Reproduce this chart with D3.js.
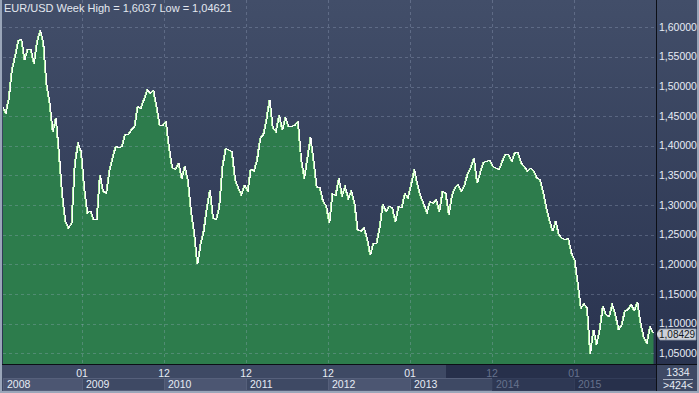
<!DOCTYPE html>
<html>
<head>
<meta charset="utf-8">
<script src="https://cdn.jsdelivr.net/npm/d3@7"></script>
<style>
  html, body { margin: 0; padding: 0; background: #3a4560; }
  svg { display: block; }
  text { font-family: "Liberation Sans Narrow", "Arial Narrow", "Liberation Sans", Arial, sans-serif; }
</style>
</head>
<body>
<div id="grafico"></div>
<script>
var inicio = new Date(2008, 0, 14);
var pasoDias = 14;
var valores = [
  1.466, 1.455, 1.479, 1.528, 1.551, 1.577, 1.580, 1.545, 1.563, 1.562,
  1.539, 1.575, 1.595, 1.573, 1.503, 1.472, 1.424, 1.447, 1.385, 1.317,
  1.272, 1.261, 1.270, 1.368, 1.404, 1.390, 1.329, 1.287, 1.290, 1.275,
  1.275, 1.351, 1.323, 1.320, 1.357, 1.379, 1.399, 1.397, 1.399, 1.419,
  1.419, 1.427,
  1.433, 1.466, 1.463, 1.478, 1.494, 1.489, 1.494, 1.466, 1.435, 1.435,
  1.441, 1.396, 1.363, 1.360, 1.371, 1.345, 1.365, 1.341, 1.289, 1.253,
  1.200, 1.233, 1.256, 1.294, 1.326, 1.278, 1.275, 1.298, 1.365, 1.395,
  1.393, 1.390, 1.343, 1.329, 1.317, 1.334, 1.323, 1.361, 1.357, 1.376,
  1.413,
  1.419, 1.445, 1.478, 1.430, 1.424, 1.452, 1.427, 1.447, 1.433, 1.433,
  1.435, 1.441, 1.379, 1.345, 1.379, 1.414, 1.374, 1.329, 1.329, 1.306,
  1.298, 1.270, 1.319, 1.316, 1.345, 1.316, 1.331, 1.311, 1.324, 1.303,
  1.258, 1.256, 1.261, 1.244, 1.216, 1.236, 1.236, 1.262, 1.301, 1.289,
  1.298, 1.296,
  1.272, 1.298, 1.295, 1.319, 1.312, 1.334, 1.360, 1.335, 1.315, 1.302,
  1.287, 1.306, 1.303, 1.309, 1.289, 1.323, 1.320, 1.284, 1.316, 1.330,
  1.334, 1.323, 1.334, 1.353, 1.363, 1.379, 1.337, 1.355, 1.372, 1.374,
  1.376, 1.365, 1.362, 1.360, 1.374, 1.386, 1.385, 1.374, 1.388, 1.388,
  1.371,
  1.365, 1.357, 1.363, 1.357, 1.346, 1.343, 1.323, 1.296, 1.275, 1.256,
  1.273, 1.250, 1.244, 1.242, 1.244, 1.219, 1.208, 1.169, 1.126, 1.133,
  1.126, 1.049, 1.090, 1.065, 1.090, 1.129, 1.115, 1.112, 1.132, 1.115,
  1.090, 1.098, 1.121, 1.124, 1.132, 1.122, 1.137, 1.101, 1.077, 1.067,
  1.095, 1.08429
];

var titulo = "EUR/USD Week High = 1,6037 Low = 1,04621";
var ticksY = [1.60, 1.55, 1.50, 1.45, 1.40, 1.35, 1.30, 1.25, 1.20, 1.15, 1.10, 1.05];
var anios = ["2008", "2009", "2010", "2011", "2012", "2013", "2014", "2015"];
var mesesInicio = ["", "01", "12", "12", "12", "01", "12", "01"];
var ultimoTexto = "1,08429";
var barrasTotal = "1334";
var barrasVisibles = ">424<";

(function () {
  var ANCHO = 699, ALTO = 393;
  var plot = { left: 3, right: 656, top: 0, bottom: 364 };
  var abajo = { top: 365, bottom: 391 };
  var inicioOscuro = 446; // zona del navegador

  var datos = valores.map(function (v, i) {
    return { fecha: d3.timeDay.offset(inicio, i * pasoDias), valor: v };
  });

  var x = d3.scaleTime()
    .domain([new Date(2008, 0, 1), new Date(2016, 0, 1)])
    .range([0, plot.right]);
  var y = d3.scaleLinear().domain([1.05, 1.60]).range([353.3, 27.3]);

  var coma = function (v) { return d3.format(".5f")(v).replace(".", ","); };

  var svg = d3.select("#grafico").append("svg")
    .attr("width", ANCHO).attr("height", ALTO);

  var defs = svg.append("defs");
  var grad = defs.append("linearGradient").attr("id", "fondo")
    .attr("x1", 0).attr("y1", 0).attr("x2", 0).attr("y2", 1);
  grad.append("stop").attr("offset", "0%").attr("stop-color", "#424e69");
  grad.append("stop").attr("offset", "100%").attr("stop-color", "#29334f");
  defs.append("clipPath").attr("id", "recorte").append("rect")
    .attr("x", plot.left).attr("y", plot.top)
    .attr("width", plot.right - plot.left).attr("height", plot.bottom - plot.top);

  // fondos
  svg.append("rect").attr("width", ANCHO).attr("height", ALTO).attr("fill", "#3a4560");
  svg.append("rect").attr("x", 0).attr("y", 0).attr("width", ANCHO).attr("height", plot.bottom)
    .attr("fill", "url(#fondo)");

  var lienzo = svg.append("g").attr("clip-path", "url(#recorte)");

  var area = d3.area()
    .x(function (d) { return x(d.fecha); })
    .y0(plot.bottom)
    .y1(function (d) { return y(d.valor); });
  var linea = d3.line()
    .x(function (d) { return x(d.fecha); })
    .y(function (d) { return y(d.valor); });

  lienzo.append("path").datum(datos).attr("d", area).attr("fill", "#2d7c4c");

  // rejilla punteada encima del area
  var rejilla = lienzo.append("g")
    .attr("stroke", "rgba(165,180,205,0.30)")
    .attr("stroke-dasharray", "3,3")
    .attr("stroke-width", 1);
  rejilla.selectAll("line.h").data(ticksY).enter().append("line")
    .attr("x1", plot.left).attr("x2", plot.right)
    .attr("y1", function (d) { return Math.round(y(d)) + 0.5; })
    .attr("y2", function (d) { return Math.round(y(d)) + 0.5; });
  var cortesAnio = anios.slice(1).map(function (a) { return new Date(+a, 0, 1); });
  rejilla.selectAll("line.v").data(cortesAnio).enter().append("line")
    .attr("x1", function (d) { return Math.round(x(d)) + 0.5; })
    .attr("x2", function (d) { return Math.round(x(d)) + 0.5; })
    .attr("y1", plot.top).attr("y2", plot.bottom);

  // linea blanca dentada con un borde verde claro, sin suavizado como el original
  lienzo.append("path").datum(datos).attr("d", linea)
    .attr("fill", "none").attr("stroke", "#b4f2a8").attr("stroke-width", 1)
    .attr("shape-rendering", "crispEdges")
    .attr("transform", "translate(-1,0)");
  lienzo.append("path").datum(datos).attr("d", linea)
    .attr("fill", "none").attr("stroke", "#ffffff").attr("stroke-width", 1)
    .attr("shape-rendering", "crispEdges");

  // titulo
  svg.append("text").attr("x", 4).attr("y", 12)
    .attr("fill", "#e3e8f0").attr("font-size", "11px").text(titulo);

  // eje derecho
  var ejeY = svg.append("g");
  ejeY.selectAll("text").data(ticksY).enter().append("text")
    .attr("x", 659)
    .attr("y", function (d) { return y(d) + 3.5; })
    .attr("fill", "#e6ecf5").attr("font-size", "10.5px")
    .text(coma);

  // etiqueta del ultimo valor, tapa un poco el 1,10000 como en el original
  var yu = Math.round(y(valores[valores.length - 1])) + 1;
  svg.append("path")
    .attr("d", "M656," + yu + "L660," + (yu - 5) + "H696V" + (yu + 6) + "H660Z")
    .attr("fill", "#ccd1d9").attr("stroke", "#8e97a6").attr("stroke-width", 0.8);
  svg.append("text").attr("x", 659).attr("y", yu + 4)
    .attr("fill", "#141820").attr("font-size", "10px").text(ultimoTexto);

  // panel de abajo
  var panel = svg.append("g");
  panel.append("rect").attr("x", 0).attr("y", abajo.top)
    .attr("width", plot.right).attr("height", abajo.bottom - abajo.top).attr("fill", "#3e4964");
  panel.append("rect").attr("x", inicioOscuro).attr("y", abajo.top)
    .attr("width", plot.right - inicioOscuro).attr("height", abajo.bottom - abajo.top)
    .attr("fill", "#27304b");

  var cajas = anios.map(function (a, i) {
    var x0 = i === 0 ? plot.left : x(new Date(+a, 0, 1));
    var x1 = i === anios.length - 1 ? plot.right : x(new Date(+a + 1, 0, 1));
    return { anio: a, mes: mesesInicio[i], x0: Math.round(x0), x1: Math.round(x1), i: i };
  });

  var oscura = function (d) { return d.x0 >= inicioOscuro; };

  panel.selectAll("rect.caja").data(cajas).enter().append("rect")
    .attr("x", function (d) { return d.x0 + 0.5; })
    .attr("y", 378.5)
    .attr("width", function (d) { return d.x1 - d.x0; })
    .attr("height", 12)
    .attr("fill", function (d) {
      if (oscura(d)) return d.i % 2 === 0 ? "#2e3854" : "#27304b";
      return d.i % 2 === 0 ? "#4c5672" : "#3e4964";
    })
    .attr("stroke", function (d) { return oscura(d) ? "#333d59" : "#56607b"; })
    .attr("stroke-width", 1);

  panel.selectAll("text.anio").data(cajas).enter().append("text")
    .attr("x", function (d) { return d.x0 + 4; })
    .attr("y", 388)
    .attr("fill", function (d) { return oscura(d) ? "#66728d" : "#e6ecf5"; })
    .attr("font-size", "10.5px")
    .text(function (d) { return d.anio; });

  panel.selectAll("text.mes").data(cajas.filter(function (d) { return d.mes; })).enter().append("text")
    .attr("x", function (d) { return d.x0; })
    .attr("y", 376.5)
    .attr("text-anchor", "middle")
    .attr("fill", function (d) { return oscura(d) ? "#66728d" : "#e6ecf5"; })
    .attr("font-size", "10.5px")
    .text(function (d) { return d.mes; });

  // esquina de abajo a la derecha
  svg.append("rect").attr("x", plot.right).attr("y", abajo.top)
    .attr("width", ANCHO - plot.right).attr("height", abajo.bottom - abajo.top).attr("fill", "#3e4964");
  svg.append("text").attr("x", 678).attr("y", 376).attr("text-anchor", "middle")
    .attr("fill", "#e6ecf5").attr("font-size", "10.5px").text(barrasTotal);
  svg.append("line").attr("x1", 663).attr("x2", 693).attr("y1", 379.5).attr("y2", 379.5)
    .attr("stroke", "#a9b2c2").attr("stroke-width", 1);
  svg.append("text").attr("x", 678).attr("y", 389).attr("text-anchor", "middle")
    .attr("fill", "#e6ecf5").attr("font-size", "10.5px").text(barrasVisibles);

  // lineas negras y bordes
  svg.append("line").attr("x1", 0).attr("x2", ANCHO).attr("y1", 364.5).attr("y2", 364.5)
    .attr("stroke", "#0c0f16").attr("stroke-width", 1);
  svg.append("line").attr("x1", 656.5).attr("x2", 656.5).attr("y1", 0).attr("y2", 392)
    .attr("stroke", "#0c0f16").attr("stroke-width", 1);
  svg.append("rect").attr("x", 0).attr("y", 0).attr("width", 2).attr("height", ALTO).attr("fill", "#9aa6b9");
  svg.append("rect").attr("x", 0).attr("y", 391).attr("width", ANCHO).attr("height", 2).attr("fill", "#9aa6b9");
  svg.append("rect").attr("x", 697).attr("y", 0).attr("width", 2).attr("height", ALTO).attr("fill", "#9aa6b9");
})();
</script>
</body>
</html>
